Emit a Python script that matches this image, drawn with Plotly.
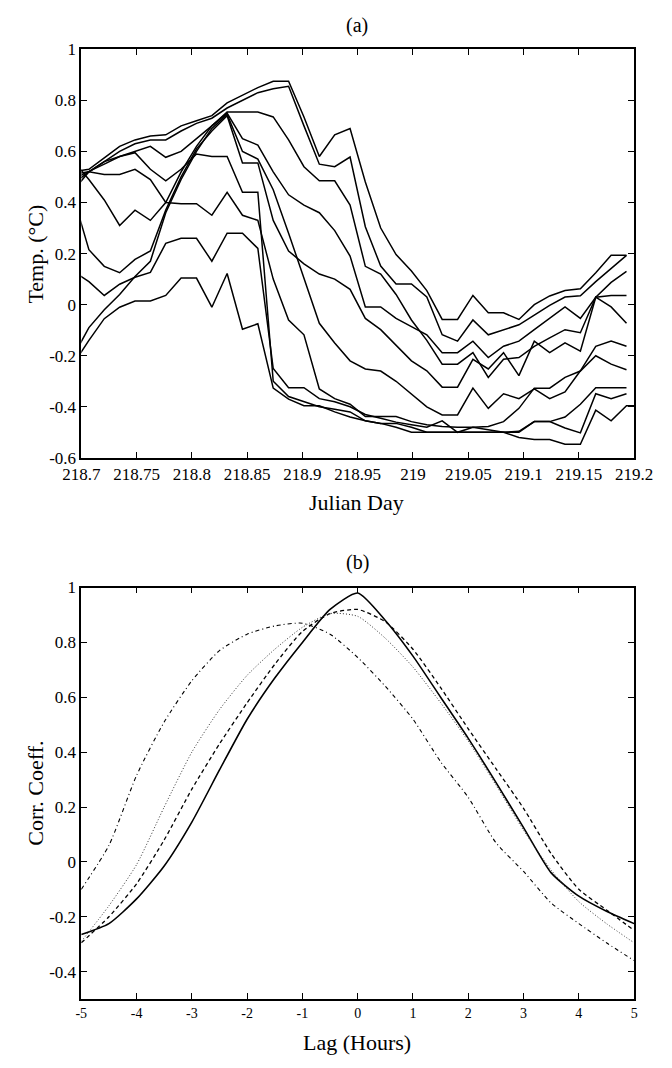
import plotly.graph_objects as go

# ---------------- Panel (a) data ----------------
julian_day = [218.6931, 218.7069, 218.7208, 218.7347, 218.7486, 218.7625, 218.7764, 218.7903,
              218.8042, 218.8181, 218.8319, 218.8458, 218.8597, 218.8736, 218.8875, 218.9014,
              218.9153, 218.9292, 218.9431, 218.9569, 218.9708, 218.9847, 218.9986, 219.0125,
              219.0264, 219.0403, 219.0542, 219.0681, 219.0819, 219.0958, 219.1097, 219.1236,
              219.1375, 219.1514, 219.1653, 219.1792, 219.1931, 219.2069]

temp_1 = [0.521, 0.53, 0.575, 0.62, 0.645, 0.66, 0.665, 0.70, 0.72, 0.74, 0.79, 0.82, 0.85, 0.875, 0.875, 0.735,
          0.58, 0.665, 0.69, 0.48, 0.30, 0.196, 0.132, 0.055, -0.058, -0.058, 0.036, -0.032, -0.032, -0.058,
          0.0, 0.034, 0.055, 0.062, 0.125, 0.193, 0.193]
temp_2 = [0.511, 0.52, 0.56, 0.60, 0.63, 0.645, 0.645, 0.68, 0.71, 0.73, 0.77, 0.80, 0.83, 0.845, 0.855, 0.70,
          0.55, 0.54, 0.578, 0.305, 0.151, 0.081, 0.081, 0.03, -0.118, -0.143, -0.06, -0.118, -0.098, -0.079,
          -0.041, -0.003, 0.03, 0.035, 0.09, 0.14, 0.193]
temp_3 = [0.493, 0.52, 0.55, 0.58, 0.60, 0.62, 0.577, 0.60, 0.65, 0.70, 0.754, 0.754, 0.754, 0.735, 0.645, 0.54,
          0.485, 0.485, 0.39, 0.15, 0.12, 0.04, -0.06, -0.14, -0.233, -0.233, -0.188, -0.285, -0.214, -0.207,
          -0.163, -0.13, -0.098, -0.11, 0.029, 0.036, 0.036]
temp_4 = [0.449, 0.52, 0.56, 0.58, 0.595, 0.53, 0.485, 0.53, 0.59, 0.58, 0.58, 0.44, 0.44, -0.30, -0.36, -0.38,
          -0.40, -0.41, -0.42, -0.455, -0.465, -0.465, -0.48, -0.50, -0.50, -0.50, -0.50, -0.50, -0.50, -0.50,
          -0.458, -0.458, -0.44, -0.39, -0.325, -0.325, -0.325]
temp_5 = [0.561, 0.49, 0.41, 0.31, 0.37, 0.33, 0.40, 0.52, 0.62, 0.70, 0.75, 0.65, 0.625, 0.52, 0.43, 0.39,
          0.36, 0.29, 0.19, -0.009, -0.009, -0.054, -0.086, -0.118, -0.188, -0.188, -0.143, -0.207, -0.163,
          -0.143, -0.098, -0.054, -0.009, -0.054, 0.029, 0.087, 0.13]
temp_6 = [0.42, 0.215, 0.15, 0.125, 0.177, 0.21, 0.37, 0.50, 0.61, 0.68, 0.74, 0.555, 0.555, 0.33, 0.21, 0.16,
          0.12, 0.10, 0.06, -0.054, -0.098, -0.16, -0.22, -0.259, -0.323, -0.323, -0.214, -0.252, -0.188,
          -0.278, -0.143, -0.188, -0.15, -0.182, 0.029, -0.009, -0.073]
temp_7 = [-0.20, -0.09, -0.02, 0.04, 0.11, 0.17, 0.36, 0.49, 0.60, 0.69, 0.745, 0.60, 0.57, 0.45, 0.28, 0.10,
          -0.073, -0.15, -0.22, -0.252, -0.26, -0.30, -0.35, -0.40, -0.432, -0.432, -0.327, -0.406, -0.349,
          -0.368, -0.33, -0.368, -0.342, -0.259, -0.163, -0.143, -0.163]
temp_8 = [0.475, 0.52, 0.51, 0.51, 0.53, 0.49, 0.40, 0.395, 0.395, 0.35, 0.44, 0.35, 0.33, 0.10, -0.06, -0.118,
          -0.33, -0.368, -0.39, -0.438, -0.438, -0.438, -0.458, -0.47, -0.477, -0.48, -0.48, -0.477, -0.458,
          -0.406, -0.327, -0.327, -0.285, -0.26, -0.20, -0.233, -0.255]
temp_9 = [0.13, 0.09, 0.036, 0.08, 0.107, 0.126, 0.24, 0.26, 0.26, 0.17, 0.28, 0.28, 0.22, -0.25, -0.325, -0.325,
          -0.368, -0.38, -0.40, -0.43, -0.445, -0.46, -0.47, -0.48, -0.455, -0.50, -0.48, -0.49, -0.50, -0.496,
          -0.458, -0.458, -0.483, -0.502, -0.349, -0.368, -0.349]
temp_10 = [-0.23, -0.14, -0.055, -0.01, 0.014, 0.014, 0.036, 0.104, 0.104, -0.01, 0.122, -0.096, -0.075, -0.327,
           -0.37, -0.396, -0.396, -0.42, -0.44, -0.455, -0.465, -0.48, -0.50, -0.50, -0.50, -0.50, -0.50, -0.50,
           -0.50, -0.52, -0.528, -0.528, -0.547, -0.547, -0.413, -0.455, -0.396, -0.396]

temp_series = [temp_1, temp_2, temp_3, temp_4, temp_5, temp_6, temp_7, temp_8, temp_9, temp_10]

xa_tickvals = [218.7, 218.75, 218.8, 218.85, 218.9, 218.95, 219.0, 219.05, 219.1, 219.15, 219.2]
xa_ticktext = ["218.7", "218.75", "218.8", "218.85", "218.9", "218.95", "219", "219.05", "219.1", "219.15", "219.2"]
ya_tickvals = [-0.6, -0.4, -0.2, 0, 0.2, 0.4, 0.6, 0.8, 1.0]
ya_ticktext = ["-0.6", "-0.4", "-0.2", "0", "0.2", "0.4", "0.6", "0.8", "1"]

# ---------------- Panel (b) data ----------------
lag_hours = [-5, -4.5, -4, -3.5, -3, -2.5, -2, -1.5, -1, -0.5, 0, 0.5, 1, 1.5, 2, 2.5, 3, 3.5, 4, 4.5, 5]
corr_solid = [-0.265, -0.225, -0.135, -0.015, 0.145, 0.335, 0.52, 0.67, 0.80, 0.92, 0.98, 0.88, 0.75, 0.60,
              0.45, 0.29, 0.125, -0.04, -0.125, -0.18, -0.225]
corr_dashed = [-0.295, -0.20, -0.08, 0.08, 0.265, 0.43, 0.58, 0.72, 0.84, 0.905, 0.92, 0.875, 0.775, 0.635,
               0.485, 0.34, 0.195, 0.03, -0.10, -0.175, -0.25]
corr_dotted = [-0.29, -0.16, -0.01, 0.20, 0.40, 0.555, 0.68, 0.775, 0.855, 0.905, 0.895, 0.815, 0.71, 0.58,
               0.44, 0.28, 0.115, -0.03, -0.145, -0.225, -0.295]
corr_dashdot = [-0.10, 0.06, 0.315, 0.51, 0.66, 0.77, 0.83, 0.86, 0.87, 0.83, 0.745, 0.64, 0.52, 0.365,
                0.235, 0.07, -0.035, -0.15, -0.225, -0.295, -0.36]

xb_tickvals = [-5, -4, -3, -2, -1, 0, 1, 2, 3, 4, 5]
xb_ticktext = ["-5", "-4", "-3", "-2", "-1", "0", "1", "2", "3", "4", "5"]
yb_tickvals = [-0.4, -0.2, 0, 0.2, 0.4, 0.6, 0.8, 1.0]
yb_ticktext = ["-0.4", "-0.2", "0", "0.2", "0.4", "0.6", "0.8", "1"]

# ---------------- Figure ----------------
W, H = 672, 1068
SERIF = "Liberation Serif, Times New Roman, serif"

fig = go.Figure()

for ys in temp_series:
    fig.add_trace(go.Scatter(x=julian_day[:len(ys)], y=ys, mode="lines",
                             line=dict(color="black", width=1.5),
                             xaxis="x", yaxis="y", showlegend=False, hoverinfo="skip"))

b_styles = [
    (corr_solid, dict(color="black", width=1.6)),
    (corr_dashed, dict(color="black", width=1.3, dash="4px,3px")),
    (corr_dotted, dict(color="#333", width=1.0, dash="1px,2px")),
    (corr_dashdot, dict(color="black", width=1.1, dash="4px,3px,1px,3px")),
]
for ys, ln in b_styles:
    fig.add_trace(go.Scatter(x=lag_hours, y=ys, mode="lines", line=dict(shape="spline", smoothing=0.6, **ln),
                             xaxis="x2", yaxis="y2", showlegend=False, hoverinfo="skip"))

def px_x(p):
    return p / W

def px_y(p):
    return 1 - p / H

axis_common = dict(showline=True, linecolor="black", linewidth=1.5, mirror="allticks",
                   ticks="inside", ticklen=6, tickwidth=1.2, tickcolor="black",
                   showgrid=False, zeroline=False, tickmode="array")

fig.update_layout(
    width=W, height=H,
    margin=dict(l=0, r=0, t=0, b=0),
    paper_bgcolor="white", plot_bgcolor="white",
    font=dict(family=SERIF, color="black"),
    xaxis=dict(domain=[px_x(66), px_x(652)], range=[218.7, 219.2], anchor="y",
               tickvals=xa_tickvals, ticktext=xa_ticktext, tickfont=dict(size=17, family=SERIF),
               **axis_common),
    yaxis=dict(domain=[px_y(457), px_y(41)], range=[-0.6, 1.0], anchor="x",
               tickvals=ya_tickvals, ticktext=ya_ticktext, tickfont=dict(size=17, family=SERIF),
               **axis_common),
    xaxis2=dict(domain=[px_x(66), px_x(652)], range=[-5, 5], anchor="y2",
                tickvals=xb_tickvals, ticktext=xb_ticktext, tickfont=dict(size=14, family=SERIF),
                **axis_common),
    yaxis2=dict(domain=[px_y(1008), px_y(589)], range=[-0.5, 1.0], anchor="x2",
                tickvals=yb_tickvals, ticktext=yb_ticktext, tickfont=dict(size=17, family=SERIF),
                **axis_common),
)

def label(text, x, y, size, angle=0):
    fig.add_annotation(text=text, x=px_x(x), y=px_y(y), xref="paper", yref="paper",
                       showarrow=False, textangle=angle, font=dict(size=size, family=SERIF, color="black"),
                       xanchor="center", yanchor="middle")

label("(a)", 358, 17, 20)
label("Julian Day", 358, 502, 22)
label("Temp. (°C)", 18, 249, 22, angle=-90)
label("(b)", 359, 564, 20)
label("Lag (Hours)", 358, 1052, 22)
label("Corr. Coeff.", 18, 798, 22, angle=-90)

fig.write_html("out.html")
